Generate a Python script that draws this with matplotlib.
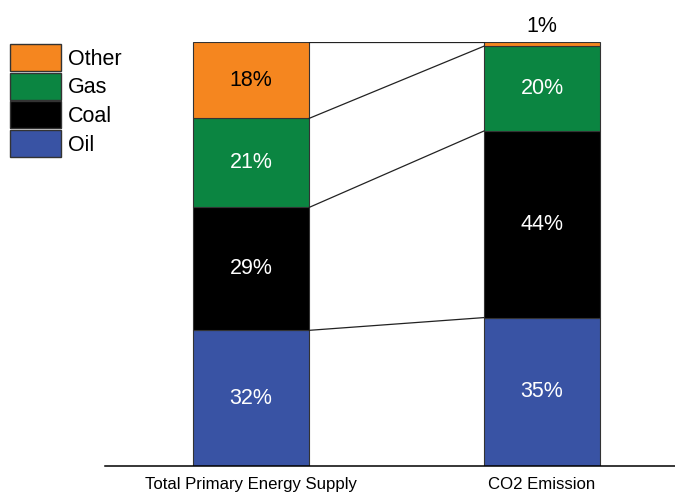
import numpy as np
import matplotlib
matplotlib.use('Agg')
import matplotlib.pyplot as plt
from matplotlib.patches import Patch

plt.rcParams['font.family'] = ['Liberation Sans', 'DejaVu Sans']

categories = ['Total Primary Energy Supply', 'CO2 Emission']
sources = ['Oil', 'Coal', 'Gas', 'Other']
oil = [32, 35]
coal = [29, 44]
gas = [21, 20]
other = [18, 1]
colors = ['#3953A4', '#000000', '#0B8541', '#F5861F']
text_colors = ['white', 'white', 'white', 'black']

fig = plt.figure(figsize=(6.75, 4.92), dpi=100)
ax = fig.add_axes([105/675, 26/492, 1 - 105/675, 424/492])

x = np.arange(len(categories))
w = 0.4
series = [oil, coal, gas, other]
bottom = np.zeros(len(categories))
tops = []
for vals, col, tc in zip(series, colors, text_colors):
    vals = np.array(vals, dtype=float)
    ax.bar(x, vals, w, bottom=bottom, color=col, edgecolor='#333333', linewidth=0.8)
    for xi, b, v in zip(x, bottom, vals):
        if v >= 5:
            ax.text(xi, b + v/2, f'{int(v)}%', ha='center', va='center', color=tc, fontsize=15.5)
        else:
            ax.text(xi, b + v + 1.2, f'{int(v)}%', ha='center', va='bottom', color='black', fontsize=15.5)
    bottom = bottom + vals
    tops.append(bottom.copy())

# connecting lines between the two bars
for t in tops:
    ax.plot([x[0] + w/2, x[1] - w/2], [t[0], t[1]], color='#222222', linewidth=0.9)

ax.set_xlim(-0.502, 1.457)
ax.set_ylim(0, 100)
ax.set_xticks(x)
ax.set_xticklabels(categories, fontsize=12.1)
ax.tick_params(axis='x', length=0, pad=8)
ax.set_yticks([])
for s in ['top', 'left', 'right']:
    ax.spines[s].set_visible(False)
ax.spines['bottom'].set_linewidth(1.1)
ax.spines['bottom'].set_color('black')

handles = [Patch(facecolor=c, edgecolor='#333333', linewidth=1.0, label=l)
           for c, l in zip(colors, sources)][::-1]
fig.legend(handles=handles, loc='upper left', bbox_to_anchor=(10/675, 1 - 44/492),
           frameon=False, fontsize=15.5, handlelength=2.37, handleheight=1.55,
           labelspacing=0.08, handletextpad=0.33, borderpad=0, borderaxespad=0)

fig.savefig('out.png', dpi=100)
